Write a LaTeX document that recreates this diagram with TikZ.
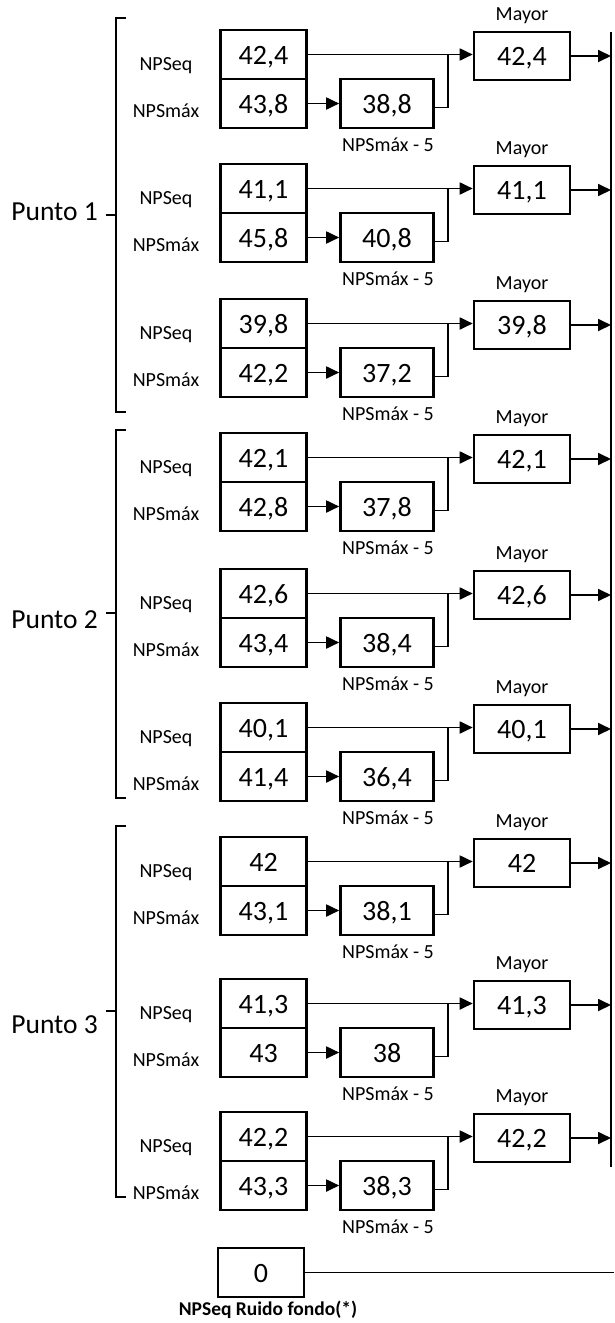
\documentclass[tikz,border=0pt]{standalone}
\usepackage{fontspec}
\setmainfont{Carlito}
\usetikzlibrary{arrows.meta}
\begin{document}
\begin{tikzpicture}[x=1pt,y=-1pt,
  valbox/.style={draw, line width=2.6pt, minimum width=86pt, minimum height=49pt, inner sep=0pt, text height=19pt, text depth=0pt, font=\fontsize{28}{30}\selectfont},
  smallbox/.style={valbox, minimum width=93pt},
  mayorbox/.style={valbox, minimum width=96pt, minimum height=48pt},
  lbl/.style={inner sep=0pt, font=\fontsize{20}{22}\selectfont},
  punto/.style={inner sep=0pt, font=\fontsize{27.5}{30}\selectfont, anchor=base east},
  conn/.style={line width=1.8pt},
  arr/.style={conn, -{Triangle[length=13pt,width=12pt]}},
  brk/.style={line width=1.7pt}]
\useasboundingbox (0,0) rectangle (614,1323);
\fill[white] (0,0) rectangle (614,1323);

% right collecting line
\coordinate (vtop) at (611,32);
\coordinate (vbot) at (611,1167);
\draw[line width=2.4pt] (vtop) -- (vbot);

\foreach \i/\T/\a/\b/\c/\d in {
  1/30/{42,4}/{43,8}/{38,8}/{42,4},
  2/164/{41,1}/{45,8}/{40,8}/{41,1},
  3/299/{39,8}/{42,2}/{37,2}/{39,8},
  4/433/{42,1}/{42,8}/{37,8}/{42,1},
  5/569/{42,6}/{43,4}/{38,4}/{42,6},
  6/703/{40,1}/{41,4}/{36,4}/{40,1},
  7/837/{42}/{43,1}/{38,1}/{42},
  8/979/{41,3}/{43}/{38}/{41,3},
  9/1112/{42,2}/{43,3}/{38,3}/{42,2}}{
  \node[valbox] (seq\i) at (263.5,\T+24.5) {\a};
  \node[valbox] (max\i) at (263.5,\T+73.5) {\b};
  \node[smallbox] (sm\i) at (387,\T+73.5) {\c};
  \node[mayorbox] (may\i) at (522,\T+26) {\d};
  \node[lbl, anchor=base] (lq\i) at (166,\T+40) {NPSeq};
  \node[lbl, anchor=base] (lm\i) at (166,\T+87) {NPSmáx};
  \node[lbl, anchor=base] (lmy\i) at (522,\T-10) {Mayor};
  \node[lbl, anchor=base] (l5\i) at (388,\T+121) {NPSmáx - 5};
  \coordinate (j\i) at (448,\T+24.5);
  \draw[arr] (seq\i.east) -- (seq\i.east -| may\i.west);
  \draw[arr] (max\i.east) -- (sm\i.west);
  \draw[conn] ([yshift=-4pt]sm\i.east) -| (j\i);
  \draw[arr] (may\i.east) -- (may\i.east -| vtop);
}

% brackets
\foreach \k/\top/\mid/\bot/\base in {1/18/215/412/220, 2/430/613/798/628, 3/826/1011/1197/1033}{
  \draw[brk] (126,\top) -- (116,\top) -- (116,\bot) -- (126,\bot);
  \draw[brk] (106,\mid) -- (116,\mid);
  \node[punto] (p\k) at (98,\base) {Punto \k};
}

% background noise
\node[valbox] (zero) at (261,1272.5) {0};
\coordinate (zend) at (614,1272);
\draw[conn] (zero.east) -- (zero.east -| zend);
\node[inner sep=0pt, anchor=base, font=\fontsize{19.5}{22}\selectfont\bfseries] (zlbl) at (268,1315) {NPSeq Ruido fondo(*)};
\end{tikzpicture}
\end{document}
